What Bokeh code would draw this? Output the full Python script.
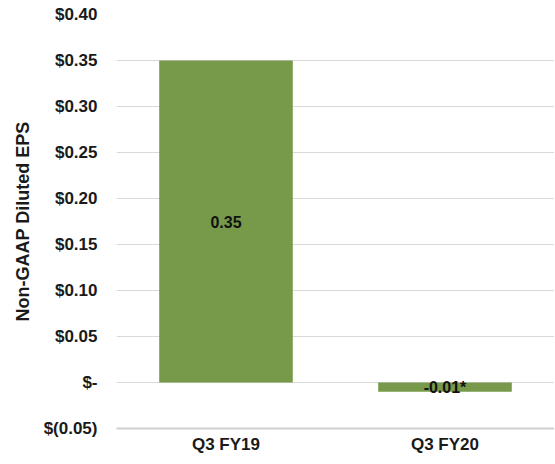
from bokeh.plotting import figure
from bokeh.models import ColumnDataSource, FixedTicker, Range1d, LabelSet
from bokeh.core.properties import value
from bokeh.embed import file_html
from bokeh.resources import INLINE

categories = ["Q3 FY19", "Q3 FY20"]
eps = [0.35, -0.01]
bar_labels = ["0.35", "-0.01*"]
tick_values = [-0.05, 0.0, 0.05, 0.10, 0.15, 0.20, 0.25, 0.30, 0.35, 0.40]
tick_labels = ["$(0.05)", "$-", "$0.05", "$0.10", "$0.15", "$0.20", "$0.25", "$0.30", "$0.35", "$0.40"]

label_y = [v / 2 for v in eps]
src = ColumnDataSource(dict(cat=categories, eps=eps, lab=bar_labels, ly=label_y))

p = figure(x_range=categories, y_range=Range1d(-0.05, 0.40),
           frame_width=438, frame_height=414,
           output_backend="svg", toolbar_location=None,
           min_border_left=116, min_border_right=0, min_border_top=14, min_border_bottom=26)
p.outline_line_color = None
p.background_fill_color = "white"

p.vbar(x="cat", top="eps", bottom=0, width=0.61, source=src, fill_color="#77994A", line_color=None)

labels = LabelSet(x="cat", y="ly", text="lab", source=src, text_align="center", text_baseline="middle",
                  text_font=value("Liberation Sans"), text_font_style="bold", text_font_size="16px",
                  text_color="#111111")
p.add_layout(labels)

p.yaxis.ticker = FixedTicker(ticks=tick_values)
p.yaxis.major_label_overrides = {v: l for v, l in zip(tick_values, tick_labels)}
p.yaxis.axis_line_color = None
p.yaxis.major_tick_line_color = None
p.yaxis.minor_tick_line_color = None
p.yaxis.major_label_standoff = 13
p.yaxis.major_label_text_font = "Liberation Sans"
p.yaxis.major_label_text_font_style = "bold"
p.yaxis.major_label_text_font_size = "17px"
p.yaxis.major_label_text_color = "#1a1a1a"
p.yaxis.axis_label = "Non-GAAP Diluted EPS"
p.yaxis.axis_label_text_font = "Liberation Sans"
p.yaxis.axis_label_text_font_style = "bold"
p.yaxis.axis_label_text_font_size = "18px"
p.yaxis.axis_label_text_color = "#1a1a1a"
p.yaxis.axis_label_standoff = 8

p.xaxis.axis_line_color = "#D0D0D0"
p.xaxis.axis_line_width = 2
p.xaxis.major_tick_line_color = None
p.xaxis.minor_tick_line_color = None
p.xaxis.major_label_standoff = 0
p.xaxis.major_label_text_font = "Liberation Sans"
p.xaxis.major_label_text_font_style = "bold"
p.xaxis.major_label_text_font_size = "17px"
p.xaxis.major_label_text_color = "#1a1a1a"

p.xgrid.grid_line_color = None
p.ygrid.grid_line_color = "#D9D9D9"
p.ygrid.grid_line_width = 1

open("out.html", "w").write(file_html(p, INLINE))
